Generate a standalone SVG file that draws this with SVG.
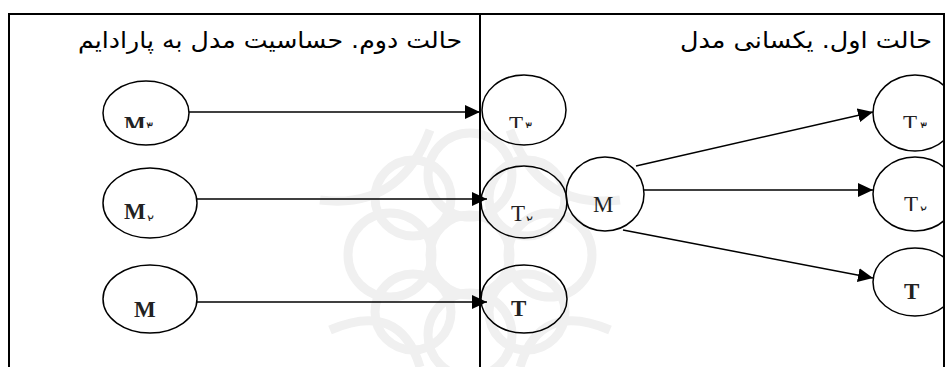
<svg xmlns="http://www.w3.org/2000/svg" width="945" height="367" viewBox="0 0 945 367">
<style>
.frame{fill:none;stroke:#000;stroke-width:2}
.node{fill:none;stroke:#000;stroke-width:1.5}
.edge{fill:none;stroke:#000;stroke-width:1.5}
.hdr{font-family:"DejaVu Sans",sans-serif;font-size:23px;fill:#000}
.lbl{font-family:"Liberation Serif",serif;font-size:23px;fill:#222}
.lblb{font-family:"Liberation Serif",serif;font-size:23px;font-weight:bold;fill:#222}
.sub{font-family:"DejaVu Sans",sans-serif;font-size:13px;fill:#222}
.wm{fill:none;stroke:#f0f0f0;stroke-width:9}
</style>
<defs>
<marker id="ah" markerUnits="userSpaceOnUse" markerWidth="16" markerHeight="14" refX="15" refY="7" orient="auto">
<path d="M0,0 L15,7 L0,14 Z" fill="#000"/>
</marker>
<clipPath id="c1"><rect x="0" y="0" width="945" height="128"/></clipPath>
<clipPath id="c2"><rect x="0" y="0" width="945" height="221"/></clipPath>
<clipPath id="c3"><rect x="0" y="0" width="945" height="211"/></clipPath>
</defs>
<rect width="945" height="367" fill="#fff"/>
<g id="watermark">
<circle class="wm" cx="470" cy="255" r="40"/>
<circle class="wm" cx="470" cy="175" r="42"/>
<circle class="wm" cx="470" cy="335" r="42"/>
<circle class="wm" cx="390" cy="255" r="42"/>
<circle class="wm" cx="550" cy="255" r="42"/>
<circle class="wm" cx="413" cy="198" r="38"/>
<circle class="wm" cx="527" cy="198" r="38"/>
<circle class="wm" cx="413" cy="312" r="38"/>
<circle class="wm" cx="527" cy="312" r="38"/>
<path class="wm" d="M320,200 Q400,210 430,130 M620,200 Q540,210 510,130 M330,330 Q400,300 420,367 M610,330 Q540,300 520,367"/>
</g>
<g id="table">
<rect class="frame" x="9" y="14" width="935" height="360"/>
<line class="frame" x1="480" y1="14" x2="480" y2="367"/>
</g>
<g id="header-left"><text class="hdr" x="462" y="48" text-anchor="end" textLength="384" lengthAdjust="spacingAndGlyphs">حالت دوم. حساسیت مدل به پارادایم</text></g>
<g id="header-right"><text class="hdr" x="932" y="48" text-anchor="end" textLength="252" lengthAdjust="spacingAndGlyphs">حالت اول. یکسانی مدل</text></g>
<g id="M3-left">
<ellipse class="node" cx="146" cy="113" rx="43" ry="32"/>
<g clip-path="url(#c1)"><text class="lblb" x="124" y="132">M</text><text class="sub" x="146" y="131">۳</text></g>
</g>
<g id="M2-left">
<ellipse class="node" cx="150" cy="203" rx="47" ry="35"/>
<g clip-path="url(#c2)"><text class="lblb" x="124" y="219">M</text><text class="sub" x="147" y="224">۲</text></g>
</g>
<g id="M1-left">
<ellipse class="node" cx="150" cy="299" rx="47" ry="34"/>
<text class="lblb" x="134" y="317">M</text>
</g>
<g id="T3-mid">
<ellipse class="node" cx="524" cy="110" rx="42" ry="35"/>
<g clip-path="url(#c1)"><text class="lbl" x="509" y="132">T</text><text class="sub" x="525" y="131">۳</text></g>
</g>
<g id="T2-mid">
<ellipse class="node" cx="524" cy="202" rx="43" ry="36"/>
<g clip-path="url(#c2)"><text class="lbl" x="511" y="221">T</text><text class="sub" x="526" y="225">۲</text></g>
</g>
<g id="T1-mid">
<ellipse class="node" cx="524" cy="299" rx="43" ry="34"/>
<text class="lblb" x="511" y="316">T</text>
</g>
<g id="M-center">
<ellipse class="node" cx="605" cy="194" rx="39" ry="37"/>
<text class="lbl" x="593" y="212">M</text>
</g>
<g id="T3-right">
<ellipse class="node" cx="915" cy="113" rx="42" ry="38"/>
<g clip-path="url(#c1)"><text class="lbl" x="903" y="131">T</text><text class="sub" x="920" y="131">۳</text></g>
</g>
<g id="T2-right">
<ellipse class="node" cx="915" cy="194" rx="42" ry="37"/>
<g clip-path="url(#c3)"><text class="lbl" x="904" y="212">T</text><text class="sub" x="920" y="215">۲</text></g>
</g>
<g id="T1-right">
<ellipse class="node" cx="915" cy="282" rx="42" ry="34"/>
<text class="lblb" x="904" y="299">T</text>
</g>
<g id="connectors">
<line class="edge" x1="189" y1="112" x2="480" y2="112" marker-end="url(#ah)"/>
<line class="edge" x1="197" y1="199" x2="487" y2="199" marker-end="url(#ah)"/>
<line class="edge" x1="197" y1="302" x2="487" y2="302" marker-end="url(#ah)"/>
<line class="edge" x1="636" y1="166" x2="873" y2="112" marker-end="url(#ah)"/>
<line class="edge" x1="644" y1="190" x2="873" y2="190" marker-end="url(#ah)"/>
<line class="edge" x1="623" y1="230" x2="873" y2="278" marker-end="url(#ah)"/>
</g>
</svg>
